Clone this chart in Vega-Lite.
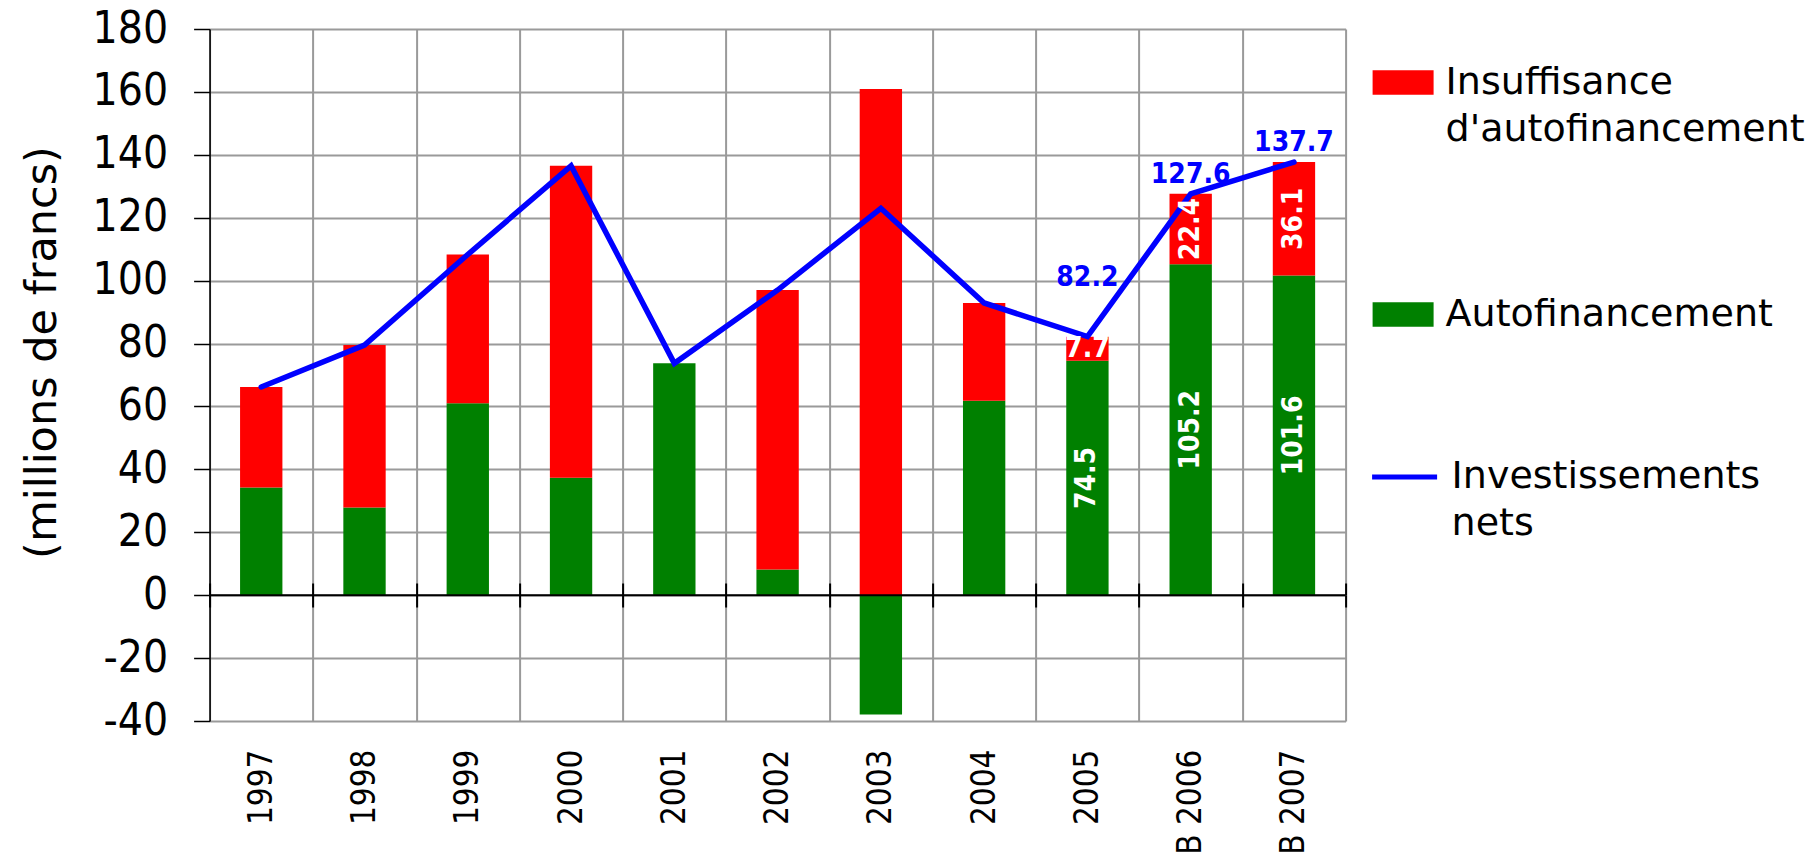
{
  "$schema": "https://vega.github.io/schema/vega-lite/v6.json",
  "width": 1136,
  "height": 692,
  "autosize": "none",
  "padding": {"left": 209.6, "top": 29, "right": 470.4, "bottom": 137},
  "background": "white",
  "config": {
    "view": {"stroke": null},
    "style": {"guide-label": {"lineHeight": 47}}
  },
  "datasets": {
    "flux": [
      {"annee": "1997", "serie": "Autofinancement", "montant": 34.2},
      {"annee": "1997", "serie": "Insuffisance d'autofinancement", "montant": 32.0},
      {"annee": "1998", "serie": "Autofinancement", "montant": 27.9},
      {"annee": "1998", "serie": "Insuffisance d'autofinancement", "montant": 51.6},
      {"annee": "1999", "serie": "Autofinancement", "montant": 61.0},
      {"annee": "1999", "serie": "Insuffisance d'autofinancement", "montant": 47.3},
      {"annee": "2000", "serie": "Autofinancement", "montant": 37.3},
      {"annee": "2000", "serie": "Insuffisance d'autofinancement", "montant": 99.2},
      {"annee": "2001", "serie": "Autofinancement", "montant": 73.7},
      {"annee": "2001", "serie": "Insuffisance d'autofinancement", "montant": 0},
      {"annee": "2002", "serie": "Autofinancement", "montant": 8.2},
      {"annee": "2002", "serie": "Insuffisance d'autofinancement", "montant": 88.8},
      {"annee": "2003", "serie": "Autofinancement", "montant": -37.9},
      {"annee": "2003", "serie": "Insuffisance d'autofinancement", "montant": 160.9},
      {"annee": "2004", "serie": "Autofinancement", "montant": 61.8},
      {"annee": "2004", "serie": "Insuffisance d'autofinancement", "montant": 31.1},
      {"annee": "2005", "serie": "Autofinancement", "montant": 74.5},
      {"annee": "2005", "serie": "Insuffisance d'autofinancement", "montant": 7.7},
      {"annee": "B 2006", "serie": "Autofinancement", "montant": 105.2},
      {"annee": "B 2006", "serie": "Insuffisance d'autofinancement", "montant": 22.4},
      {"annee": "B 2007", "serie": "Autofinancement", "montant": 101.6},
      {"annee": "B 2007", "serie": "Insuffisance d'autofinancement", "montant": 36.1}
    ],
    "invest": [
      {"annee": "1997", "montant": 66.2},
      {"annee": "1998", "montant": 79.5},
      {"annee": "1999", "montant": 108.3},
      {"annee": "2000", "montant": 136.5},
      {"annee": "2001", "montant": 73.7},
      {"annee": "2002", "montant": 97.0},
      {"annee": "2003", "montant": 123.0},
      {"annee": "2004", "montant": 92.9},
      {"annee": "2005", "montant": 82.2},
      {"annee": "B 2006", "montant": 127.6},
      {"annee": "B 2007", "montant": 137.7}
    ]
  },
  "resolve": {"axis": {"x": "independent"}},
  "layer": [
    {
      "data": {"name": "flux"},
      "mark": {"type": "bar", "width": {"band": 0.41}},
      "encoding": {
        "x": {
          "field": "annee", "type": "nominal", "sort": null,
          "scale": {"paddingInner": 0, "paddingOuter": 0},
          "axis": {
            "title": null, "orient": "bottom", "labelAngle": 270,
            "labelFont": "DejaVu Sans Condensed", "labelFontSize": 33, "labelColor": "black",
            "labelPadding": 28, "ticks": false, "domain": false,
            "grid": true, "gridColor": "#9a9a9a", "gridWidth": 2, "tickBand": "extent"
          }
        },
        "y": {
          "field": "montant", "type": "quantitative", "stack": "zero",
          "scale": {"domain": [-40, 180], "nice": false, "zero": false},
          "axis": {
            "title": "(millions de francs)",
            "values": [-40, -20, 0, 20, 40, 60, 80, 100, 120, 140, 160, 180],
            "labelExpr": "'' + datum.value",
            "labelFont": "DejaVu Sans Condensed", "labelFontSize": 44, "labelColor": "black",
            "labelPadding": 26, "tickSize": 16, "tickColor": "black", "tickWidth": 1.5,
            "domainColor": "black", "domainWidth": 1.5,
            "grid": true, "gridColor": "#9a9a9a", "gridWidth": 2,
            "titleFont": "DejaVu Sans", "titleFontSize": 43, "titleFontWeight": "normal",
            "titleColor": "black", "titlePadding": 28, "titleY": 323
          }
        },
        "color": {
          "field": "serie", "type": "nominal",
          "scale": {"domain": ["Insuffisance d'autofinancement", "Autofinancement"], "range": ["#ff0000", "#008000"]},
          "legend": {
            "title": null, "orient": "none", "legendX": 1163, "legendY": 23,
            "symbolType": "M-1,-0.4H1V0.4H-1Z", "symbolSize": 3721, "symbolStrokeWidth": 0,
            "labelFont": "DejaVu Sans", "labelFontSize": 38, "labelColor": "black",
            "labelLimit": 600, "labelOffset": 12, "rowPadding": 135, "padding": 0,
            "labelExpr": "datum.label == \"Insuffisance d'autofinancement\" ? ['Insuffisance', \"d'autofinancement\"] : datum.label"
          }
        },
        "order": {"field": "serie", "sort": "ascending"}
      }
    },
    {
      "data": {"values": [{}]},
      "mark": {"type": "rule", "color": "black", "strokeWidth": 2},
      "encoding": {"y": {"datum": 0, "type": "quantitative"}}
    },
    {
      "data": {"name": "invest"},
      "mark": {"type": "line", "strokeWidth": 5.5, "strokeCap": "round", "strokeJoin": "miter"},
      "encoding": {
        "x": {
          "field": "annee", "type": "nominal", "sort": null,
          "axis": {
            "orient": "bottom", "offset": -126, "title": null, "labels": false,
            "domain": false, "grid": false, "ticks": true, "tickBand": "extent",
            "tickColor": "black", "tickSize": 12, "tickWidth": 2
          }
        },
        "y": {"field": "montant", "type": "quantitative"},
        "stroke": {
          "datum": "Investissements nets",
          "scale": {"domain": ["Investissements nets"], "range": ["#0000ff"]},
          "legend": {
            "title": null, "orient": "none", "legendX": 1160, "legendY": 413,
            "symbolType": "stroke", "symbolSize": 4225, "symbolStrokeWidth": 5,
            "labelFont": "DejaVu Sans", "labelFontSize": 38, "labelColor": "black",
            "labelLimit": 600, "labelOffset": 12, "padding": 0,
            "labelExpr": "['Investissements', 'nets']"
          }
        }
      }
    },
    {
      "data": {"name": "invest"},
      "transform": [{"filter": "datum.annee == '2005'"}],
      "mark": {"type": "text", "color": "#0000ff", "font": "DejaVu Sans Condensed", "fontWeight": "bold", "fontSize": 28, "dy": -59},
      "encoding": {
        "x": {
          "field": "annee", "type": "nominal", "sort": null,
          "axis": {
            "orient": "bottom", "offset": -138, "title": null, "labels": false,
            "domain": false, "grid": false, "ticks": true, "tickBand": "extent",
            "tickColor": "black", "tickSize": 12, "tickWidth": 2
          }
        },
        "y": {"field": "montant", "type": "quantitative"},
        "text": {"field": "montant", "type": "quantitative", "format": ".1f"}
      }
    },
    {
      "data": {"name": "invest"},
      "transform": [{"filter": "datum.annee == 'B 2006' || datum.annee == 'B 2007'"}],
      "mark": {"type": "text", "color": "#0000ff", "font": "DejaVu Sans Condensed", "fontWeight": "bold", "fontSize": 28, "dy": -19},
      "encoding": {
        "x": {"field": "annee", "type": "nominal", "sort": null, "axis": null},
        "y": {"field": "montant", "type": "quantitative"},
        "text": {"field": "montant", "type": "quantitative", "format": ".1f"}
      }
    },
    {
      "data": {"name": "flux"},
      "transform": [
        {"filter": "indexof(['2005', 'B 2006', 'B 2007'], datum.annee) >= 0"},
        {"stack": "montant", "groupby": ["annee"], "sort": [{"field": "serie", "order": "ascending"}], "as": ["bas", "haut"]},
        {"fold": ["bas", "haut"], "as": ["bord", "pos"]},
        {"aggregate": [{"op": "mean", "field": "pos", "as": "milieu"}], "groupby": ["annee", "serie", "montant"]}
      ],
      "mark": {"type": "text", "color": "white", "font": "DejaVu Sans Condensed", "fontWeight": "bold", "fontSize": 28},
      "encoding": {
        "x": {"field": "annee", "type": "nominal", "sort": null, "axis": null},
        "y": {"field": "milieu", "type": "quantitative"},
        "text": {"field": "montant", "type": "quantitative", "format": ".1f"},
        "angle": {"condition": {"test": "datum.montant < 10", "value": 0}, "value": 270}
      }
    }
  ]
}
